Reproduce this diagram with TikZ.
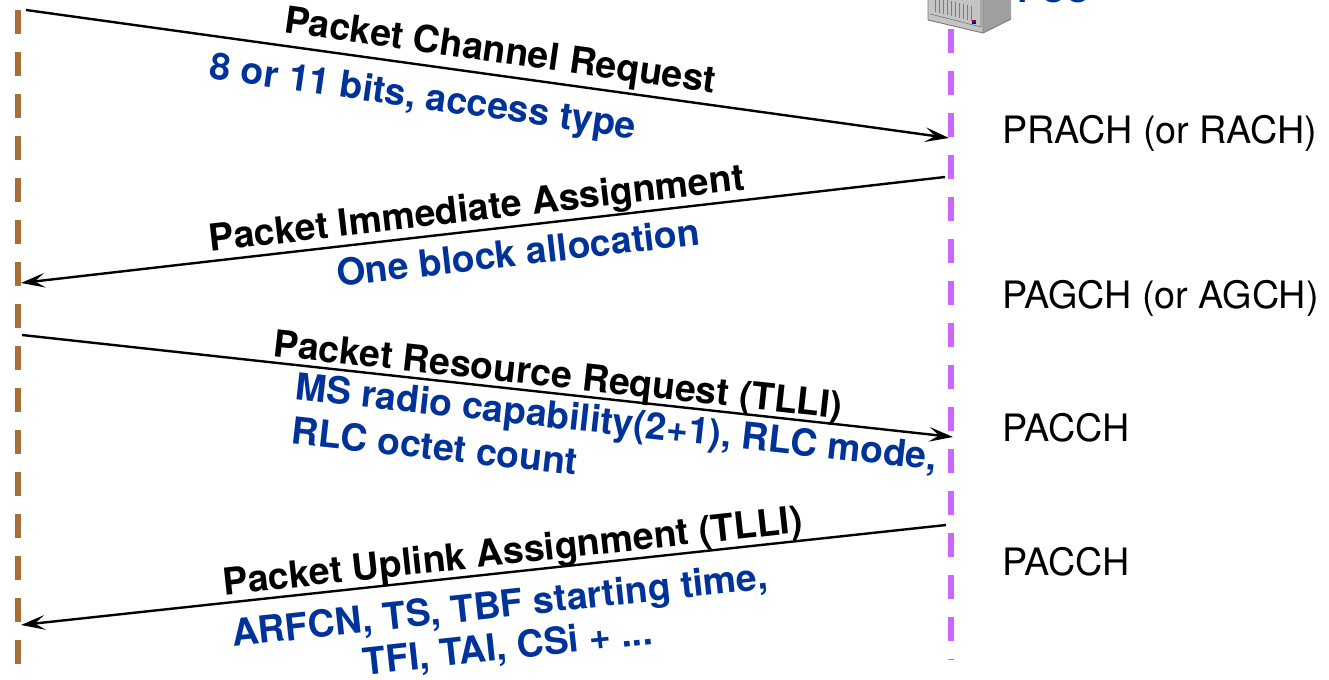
\documentclass[tikz,border=0pt]{standalone}
\usepackage{fontspec}
\setmainfont{TeX Gyre Heros}
\usetikzlibrary{arrows.meta}
\definecolor{brownline}{HTML}{A86E38}
\definecolor{purpleline}{HTML}{CC66FF}
\definecolor{msgblue}{HTML}{003399}
\definecolor{srvfront}{HTML}{C4C4C4}
\definecolor{srvside}{HTML}{A0A0A0}
\definecolor{srvedge}{HTML}{7C7C7C}
\tikzset{
 x=0.75pt,y=-0.75pt,
 lifeline/.style={line width=4.5pt,dash pattern=on 18pt off 13.5pt},
 msg/.style={line width=1.8pt,-{Stealth[length=18pt,width=11pt,inset=7.5pt]}},
 title/.style={font=\bfseries\fontsize{28}{31}\selectfont,text=black,inner sep=0pt},
 info/.style={font=\bfseries\fontsize{28}{31}\selectfont,text=msgblue,inner sep=0pt,align=center},
 chan/.style={font=\fontsize{28.3}{31}\selectfont,text=black,inner sep=0pt,anchor=base west},
}
\begin{document}
\begin{tikzpicture}
\useasboundingbox (0,0) rectangle (1329,680);
\clip (0,0) rectangle (1329,680);
% lifelines
\coordinate (ms0) at (18,10); \coordinate (ms1) at (18,664);
\coordinate (bs0) at (951,29); \coordinate (bs1) at (951,660);
\draw[lifeline,brownline] (ms0) -- (ms1);
\draw[lifeline,purpleline] (bs0) -- (bs1);
% server
\fill[srvside] (983,33) -- (1011,19) -- (1011,-20) -- (983,-10) -- cycle;
\fill[srvfront] (928,20) -- (983,33) -- (983,-10) -- (928,-20) -- cycle;
\draw[srvedge,line width=.7pt] (928,20) -- (983,33) -- (1011,19) (983,33) -- (983,-5) (928,20) -- (928,-5);
\draw[srvedge,line width=.5pt] (930,14) -- (981,27) (981,27) -- (981,-5);
\foreach \i in {0,...,9}{\draw[srvedge,line width=.45pt] (935+\i*4,-3+\i) -- (935+\i*4,12+\i);}
\fill[red!70!black] (972,20) rectangle (976,22);
\fill[blue!80!black] (972,22) rectangle (976,24);
\node[font=\bfseries\fontsize{26}{30}\selectfont,text=msgblue,inner sep=0pt,anchor=base west] (pcu) at (1017,3) {PCU};
% messages
\coordinate (a0) at (26,10); \coordinate (a1) at (949,138);
\coordinate (b0) at (945,177); \coordinate (b1) at (21,283);
\coordinate (c0) at (22,335); \coordinate (c1) at (953,437);
\coordinate (d0) at (946,525); \coordinate (d1) at (21,625);
\draw[msg] (a0) -- (a1);
\draw[msg] (b0) -- (b1);
\draw[msg] (c0) -- (c1);
\draw[msg] (d0) -- (d1);
% labels
\node[title,rotate=-8.1] (t1) at (500,53) {Packet Channel Request};
\node[info,rotate=-8.1] (i1) at (423,99) {8 or 11 bits, access type};
\node[title,rotate=6.6] (t2) at (477,211) {Packet Immediate Assignment};
\node[info,rotate=6.6] (i2) at (518,252) {One block allocation};
\node[title,rotate=-6.3] (t3) at (558,378) {Packet Resource Request (TLLI)};
\node[info,rotate=-6.3] (i3) at (616,425) {MS radio capability(2+1), RLC mode,};
\node[info,rotate=-6.3] (i3b) at (435,446) {RLC octet count};
\node[title,rotate=6.2] (t4) at (513,554) {Packet Uplink Assignment (TLLI)};
\node[info,rotate=6.2] (i4) at (500,608) {ARFCN, TS, TBF starting time,};
\node[info,rotate=6.2] (i4b) at (508,649) {TFI, TAI, CSi + ...};
% channels
\node[chan] (c1t) at (1002,144) {PRACH (or RACH)};
\node[chan] (c2t) at (1002,309) {PAGCH (or AGCH)};
\node[chan] (c3t) at (1002,442) {PACCH};
\node[chan] (c4t) at (1002,576) {PACCH};
\end{tikzpicture}
\end{document}
